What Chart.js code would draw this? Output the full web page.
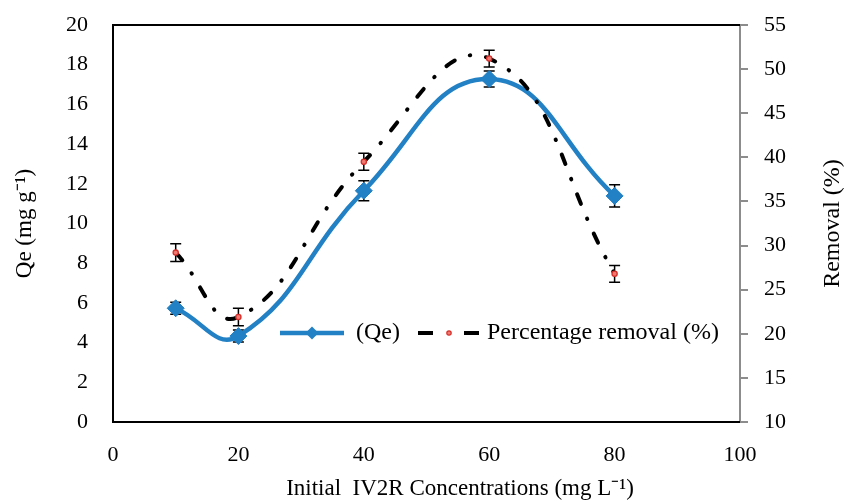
<!DOCTYPE html>
<html>
<head>
<meta charset="utf-8">
<script src="https://cdn.jsdelivr.net/npm/chart.js@4"></script>
<style>
  html, body { margin: 0; padding: 0; background: #fff; }
</style>
</head>
<body>
<canvas id="myChart" width="845" height="502"></canvas>
<script>
// data
const concentrations = [10, 20, 40, 60, 80];
const qeValues = [5.73, 4.33, 11.65, 17.28, 11.39];
const qeErrors = [0.3, 0.3, 0.5, 0.4, 0.56];
const removalValues = [29.2, 21.9, 39.5, 51.2, 26.8];
const removalErrors = [1.0, 1.0, 0.95, 0.95, 0.95];

const xTicks = [0, 20, 40, 60, 80, 100];
const qeTicks = [0, 2, 4, 6, 8, 10, 12, 14, 16, 18, 20];
const removalTicks = [10, 15, 20, 25, 30, 35, 40, 45, 50, 55];

const FONT = '"Liberation Serif", "Times New Roman", serif';
const BLUE = '#2280C4';

// error bars, drawn behind the markers
const errorBars = {
    id: 'errorBars',
    beforeDatasetsDraw(chart) {
        const ctx = chart.ctx;
        const x = chart.scales.x;
        const sets = [
            [qeValues, qeErrors, chart.scales.yQe],
            [removalValues, removalErrors, chart.scales.yRem]
        ];
        ctx.save();
        ctx.strokeStyle = '#000';
        ctx.lineWidth = 1.5;
        sets.forEach(([vals, errs, ys]) => {
            vals.forEach((v, i) => {
                const px = x.getPixelForValue(concentrations[i]);
                const top = ys.getPixelForValue(v + errs[i]);
                const bot = ys.getPixelForValue(v - errs[i]);
                ctx.beginPath();
                ctx.moveTo(px, top); ctx.lineTo(px, bot);
                ctx.moveTo(px - 5.5, top); ctx.lineTo(px + 5.5, top);
                ctx.moveTo(px - 5.5, bot); ctx.lineTo(px + 5.5, bot);
                ctx.stroke();
            });
        });
        ctx.restore();
    }
};

// black frame on top/left/bottom, titles, legend inside the plot
const frameAndLegend = {
    id: 'frameAndLegend',
    afterDraw(chart) {
        const ctx = chart.ctx;
        const a = chart.chartArea;
        ctx.save();
        ctx.strokeStyle = '#000';
        ctx.lineWidth = 2;
        ctx.beginPath();
        ctx.moveTo(a.right, a.top);
        ctx.lineTo(a.left, a.top);
        ctx.lineTo(a.left, a.bottom);
        ctx.lineTo(a.right, a.bottom);
        ctx.stroke();

        ctx.fillStyle = '#000';
        ctx.textBaseline = 'middle';
        ctx.textAlign = 'center';
        ctx.font = '23px ' + FONT;
        ctx.fillText('Initial  IV2R Concentrations (mg L\u207B\u00B9)', 460, 489);

        // right axis title reads bottom to top
        ctx.save();
        ctx.translate(833, (a.top + a.bottom) / 2);
        ctx.rotate(-Math.PI / 2);
        ctx.font = '24px ' + FONT;
        ctx.fillText('Removal (%)', 0, 0);
        ctx.restore();

        // legend
        const ly = 333;
        ctx.strokeStyle = BLUE;
        ctx.lineWidth = 4.5;
        ctx.beginPath();
        ctx.moveTo(280, ly); ctx.lineTo(344, ly);
        ctx.stroke();
        ctx.fillStyle = BLUE;
        ctx.beginPath();
        ctx.moveTo(312, ly - 6.5); ctx.lineTo(318.5, ly);
        ctx.lineTo(312, ly + 6.5); ctx.lineTo(305.5, ly);
        ctx.closePath();
        ctx.fill();

        ctx.strokeStyle = '#000';
        ctx.lineWidth = 4;
        ctx.beginPath();
        ctx.moveTo(418, ly); ctx.lineTo(433, ly);
        ctx.moveTo(464, ly); ctx.lineTo(479, ly);
        ctx.stroke();
        ctx.fillStyle = '#EE7A72';
        ctx.strokeStyle = '#D62F2A';
        ctx.lineWidth = 1.2;
        ctx.beginPath();
        ctx.arc(449, ly, 2.2, 0, Math.PI * 2);
        ctx.fill(); ctx.stroke();

        ctx.fillStyle = '#000';
        ctx.textAlign = 'left';
        ctx.font = '24px ' + FONT;
        ctx.fillText('(Qe)', 356, ly);
        ctx.fillText('Percentage removal (%)', 487, ly);
        ctx.restore();
    }
};

const data = {
    datasets: [{
        label: 'Percentage removal (%)',
        data: concentrations.map((c, i) => ({ x: c, y: removalValues[i] })),
        yAxisID: 'yRem',
        borderColor: '#000',
        borderWidth: 4,
        borderDash: [10, 16, 0.5, 16],
        borderCapStyle: 'round',
        tension: 0.45,
        pointStyle: 'circle',
        pointRadius: 2.6,
        pointBorderWidth: 1.3,
        pointBackgroundColor: '#EE7A72',
        pointBorderColor: '#D62F2A',
        order: 0
    }, {
        label: '(Qe)',
        data: concentrations.map((c, i) => ({ x: c, y: qeValues[i] })),
        yAxisID: 'yQe',
        borderColor: BLUE,
        borderWidth: 4.5,
        tension: 0.45,
        pointStyle: 'rectRot',
        pointRadius: 8.5,
        pointBorderWidth: 1,
        pointBackgroundColor: BLUE,
        pointBorderColor: BLUE,
        order: 1
    }]
};

const config = {
    type: 'line',
    data: data,
    options: {
        responsive: false,
        animation: false,
        devicePixelRatio: 1,
        layout: { padding: { top: 25, left: 0, right: 0, bottom: 0 } },
        plugins: {
            legend: { display: false },
            tooltip: { enabled: false }
        },
        scales: {
            x: {
                type: 'linear',
                min: 0,
                max: 100,
                afterBuildTicks: (s) => { s.ticks = xTicks.map(v => ({ value: v })); },
                afterFit: (s) => { s.height = 80; },
                grid: { display: false, drawTicks: false },
                border: { display: false },
                ticks: { color: '#000', padding: 20, maxRotation: 0, font: { family: FONT, size: 22 } }
            },
            yQe: {
                position: 'left',
                min: 0,
                max: 20,
                afterBuildTicks: (s) => { s.ticks = qeTicks.map(v => ({ value: v })); },
                afterFit: (s) => { s.width = 113; s.paddingTop = 0; s.paddingBottom = 0; },
                grid: { display: false, drawTicks: false },
                border: { display: false },
                ticks: { color: '#000', padding: 25, font: { family: FONT, size: 22 } },
                title: {
                    display: true,
                    text: 'Qe (mg g\u207B\u00B9)',
                    color: '#000',
                    font: { family: FONT, size: 23, lineHeight: 1 },
                    padding: { top: 13, bottom: 0 }
                }
            },
            yRem: {
                position: 'right',
                min: 10,
                max: 55,
                afterBuildTicks: (s) => { s.ticks = removalTicks.map(v => ({ value: v })); },
                afterFit: (s) => { s.width = 105; s.paddingTop = 0; s.paddingBottom = 0; },
                grid: {
                    display: true,
                    drawOnChartArea: false,
                    drawTicks: true,
                    tickLength: 8,
                    color: '#8C8C8C',
                    lineWidth: 2
                },
                border: { display: true, color: '#8C8C8C', width: 2 },
                ticks: { color: '#000', padding: 16, font: { family: FONT, size: 22 } }
            }
        }
    },
    plugins: [errorBars, frameAndLegend]
};

const myChart = new Chart(document.getElementById('myChart'), config);
</script>
</body>
</html>
